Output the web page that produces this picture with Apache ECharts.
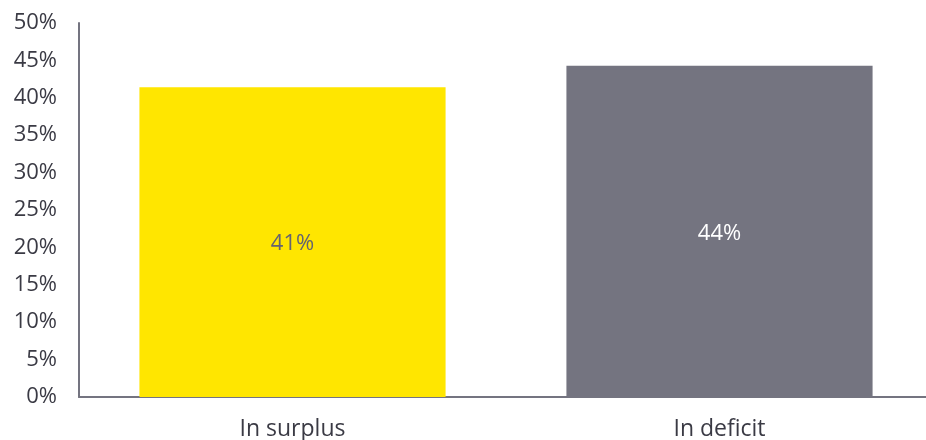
<!DOCTYPE html>
<html>
<head>
<meta charset="utf-8">
<script src="https://cdn.jsdelivr.net/npm/echarts@6/dist/echarts.min.js"></script>
<style>
  html, body { margin: 0; padding: 0; background: #fff; }
  #chart { width: 926px; height: 440px; }
</style>
</head>
<body>
<div id="chart"></div>
<script>
// Share of respondents by budget position
const categories = ['In surplus', 'In deficit'];
const shares = [41.4, 44.3];
const barColors = ['#FFE600', '#747480'];
const labelColors = ['#646470', '#FFFFFF'];
const yTicks = [0, 5, 10, 15, 20, 25, 30, 35, 40, 45, 50];

const font = '"Open Sans", "Noto Sans", sans-serif';
const chart = echarts.init(document.getElementById('chart'), null, { renderer: 'canvas' });

chart.setOption({
  animation: false,
  // plot area runs a little past the right edge so the category bands are evenly spaced
  grid: {
    left: 79, width: 854, top: 23, bottom: 43,
    containLabel: false, outerBoundsMode: 'none'
  },
  xAxis: {
    type: 'category',
    data: categories,
    axisLine: { show: true, lineStyle: { color: '#747480', width: 2 } },
    axisTick: { show: false },
    axisLabel: { color: '#3a3a44', fontSize: 23, fontFamily: font, margin: 21 }
  },
  yAxis: {
    type: 'value',
    min: yTicks[0],
    max: yTicks[yTicks.length - 1],
    interval: 5,
    axisLine: { show: true, lineStyle: { color: '#747480', width: 2 } },
    axisTick: { show: false },
    splitLine: { show: false },
    axisLabel: {
      color: '#3a3a44', fontSize: 22, fontFamily: font, margin: 22,
      formatter: v => v + '%'
    }
  },
  series: [{
    type: 'bar',
    barWidth: '71.7%',
    data: shares.map((v, i) => ({
      value: v,
      itemStyle: { color: barColors[i] },
      label: { color: labelColors[i] }
    })),
    label: {
      show: true,
      position: 'inside',
      offset: [0, 2],
      fontSize: 22,
      fontFamily: font,
      formatter: p => Math.round(p.value) + '%'
    }
  }]
});
</script>
</body>
</html>
